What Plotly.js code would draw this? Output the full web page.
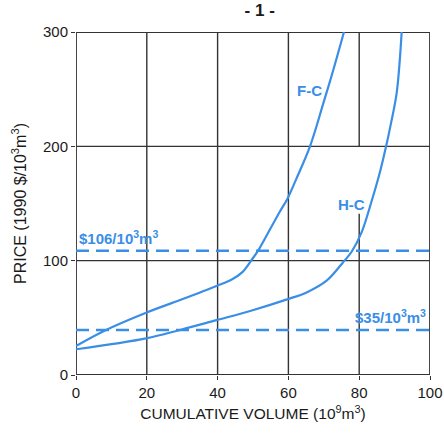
<!DOCTYPE html>
<html><head><meta charset="utf-8">
<script src="https://cdn.plot.ly/plotly-3.0.1.min.js"></script>
<style>body{margin:0;background:#fff}#c{width:444px;height:435px}</style>
</head><body><div id="c"></div>
<script>
const fcVolume = [0, 8.2, 19.8, 29.4, 39.7, 44, 47, 49.6, 51.5, 53.5, 57.6, 59.7, 62.3, 66.1, 69.9, 72.7, 75.7];
const fcPrice  = [25.4, 39, 54.5, 65.6, 77.9, 83.5, 90, 100.6, 109, 120, 143, 154, 172, 200, 238, 267, 300];
const hcVolume = [0, 19.8, 29.4, 39.7, 49.2, 60.5, 65, 70.8, 75.3, 77.9, 80.7, 83.5, 85.9, 87.6, 88.9, 90.6, 92];
const hcPrice  = [22.5, 32, 39.4, 48, 56, 67, 72, 82.5, 98, 108, 125, 152, 178, 200, 219, 247, 300];
const upperPrice = 108.7, lowerPrice = 39.4;
const upperLabel = "<b>$106/10<sup>3</sup>m<sup>3</sup></b>";
const lowerLabel = "<b>$35/10<sup>3</sup>m<sup>3</sup></b>";
const xTicks = [0, 20, 40, 60, 80, 100];
const yTicks = [0, 100, 200, 300];
const blue = '#3a8ee6';
const font = 'Liberation Sans, Arial, sans-serif';

const traces = [
  {x: fcVolume, y: fcPrice, mode: 'lines', line: {color: blue, width: 2.2, shape: 'spline', smoothing: 1}},
  {x: hcVolume, y: hcPrice, mode: 'lines', line: {color: blue, width: 2.2, shape: 'spline', smoothing: 1}},
  {x: [0, 100], y: [upperPrice, upperPrice], mode: 'lines', line: {color: blue, width: 2.6, dash: '13px,7px'}},
  {x: [0, 100], y: [lowerPrice, lowerPrice], mode: 'lines', line: {color: blue, width: 2.6, dash: '13px,7px'}}
];

const gl = {color: '#333', width: 1.4};
const shapes = [];
[20, 40, 60].forEach(v => shapes.push({type: 'line', xref: 'x', yref: 'y', x0: v, x1: v, y0: 0, y1: 300, line: gl, layer: 'below'}));
shapes.push({type: 'line', xref: 'x', yref: 'y', x0: 80, x1: 80, y0: 0, y1: 141, line: gl, layer: 'below'});
shapes.push({type: 'line', xref: 'x', yref: 'y', x0: 80, x1: 80, y0: 200, y1: 300, line: gl, layer: 'below'});
[100, 200].forEach(v => shapes.push({type: 'line', xref: 'x', yref: 'y', x0: 0, x1: 100, y0: v, y1: v, line: gl, layer: 'below'}));
shapes.push({type: 'rect', xref: 'x', yref: 'y', x0: 0, x1: 100, y0: 0, y1: 300, line: {color: '#333', width: 1.8}, layer: 'below'});

const af = {family: font, size: 15, color: blue};
const tf = {family: font, size: 15, color: '#1a1a1a'};
const layout = {
  width: 444, height: 435,
  margin: {l: 76, r: 14, t: 32, b: 60},
  paper_bgcolor: '#fff', plot_bgcolor: '#fff',
  showlegend: false,
  font: {family: font, color: '#1a1a1a'},
  title: {text: '<b>- 1 -</b>', x: 0.585, xanchor: 'center', y: 0.99, yanchor: 'top', font: {family: font, size: 17, color: '#1a1a1a'}},
  xaxis: {range: [0, 100], tickvals: xTicks, showgrid: false, zeroline: false, ticks: 'outside', ticklen: 4, tickcolor: '#333',
          tickfont: tf,
          title: {text: 'CUMULATIVE VOLUME (10<sup>9</sup>m<sup>3</sup>)', font: {family: font, size: 15.5, color: '#1a1a1a'}, standoff: 8}},
  yaxis: {range: [0, 300], tickvals: yTicks, showgrid: false, zeroline: false, ticks: 'outside', ticklen: 4, tickcolor: '#333',
          tickfont: tf,
          title: {text: 'PRICE (1990 $/10<sup>3</sup>m<sup>3</sup>)', font: {family: font, size: 16, color: '#1a1a1a'}, standoff: 12}},
  shapes: shapes,
  annotations: [
    {x: 66, y: 249, text: '<b>F-C</b>', showarrow: false, font: af},
    {x: 77.9, y: 149, text: '<b>H-C</b>', showarrow: false, font: af},
    {x: 0.3, y: 120, text: upperLabel, showarrow: false, xanchor: 'left', font: af},
    {x: 99.5, y: 51, text: lowerLabel, showarrow: false, xanchor: 'right', font: af}
  ]
};
Plotly.newPlot('c', traces, layout, {displayModeBar: false, staticPlot: true});
</script></body></html>
